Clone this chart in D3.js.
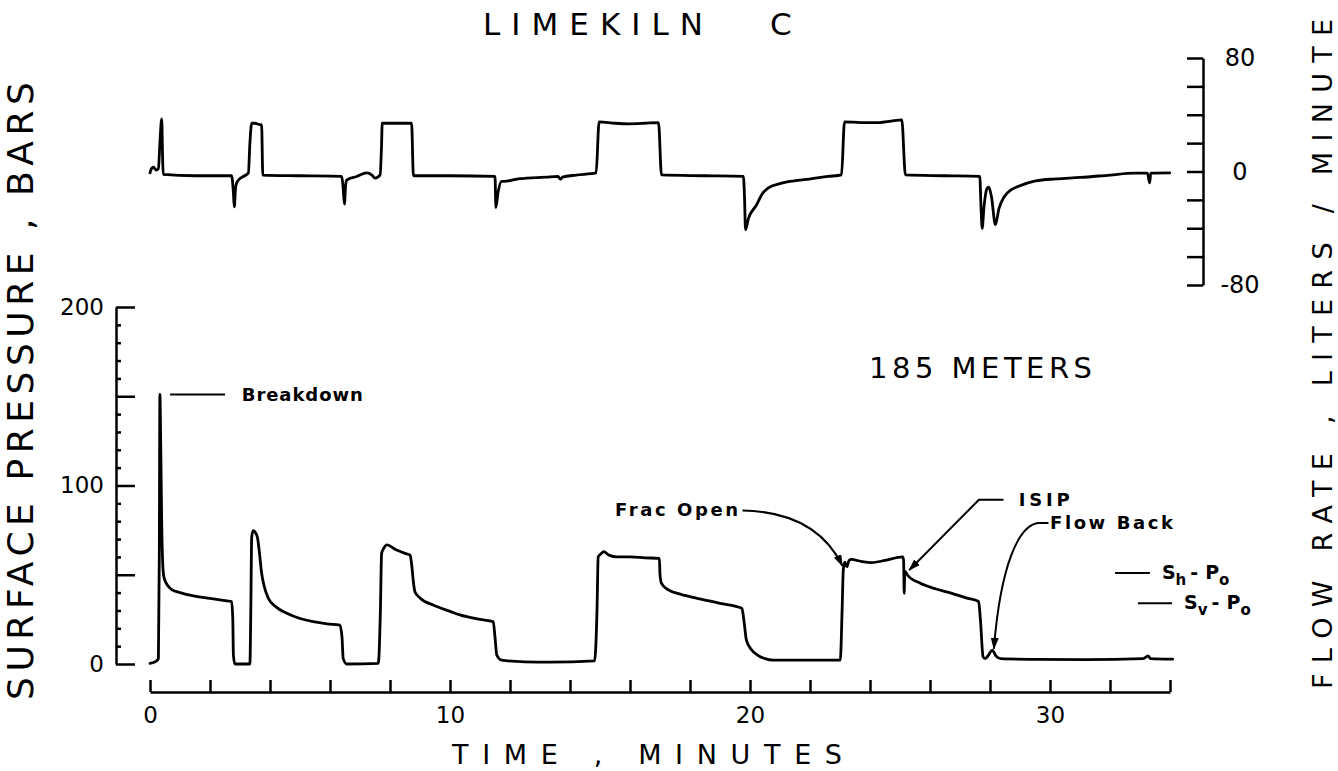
<!DOCTYPE html>
<html>
<head>
<meta charset="utf-8">
<script src="https://cdn.jsdelivr.net/npm/d3@7"></script>
<style>
  html, body { margin: 0; padding: 0; background: #fff; }
  svg { display: block; }
  .axis path, .axis line { stroke: #000; stroke-width: 2.5px; }
  .axis text { font-family: 'DejaVu Sans', sans-serif; font-size: 23px; fill: #000; }
  .trace { fill: none; stroke: #000; stroke-width: 2.8px; stroke-linejoin: round; stroke-linecap: round; }
  .title { font-family: 'DejaVu Sans', sans-serif; fill: #000; }
  .note { font-family: 'DejaVu Sans', sans-serif; font-weight: bold; font-size: 18px; fill: #000; }
  .lead { fill: none; stroke: #000; stroke-width: 2px; }
</style>
</head>
<body>
<div id="chart"></div>
<script>
// Flow rate trace (minutes, liters/minute)
const flowTime = [0, 0.05, 0.12, 0.2, 0.28, 0.33, 0.39, 0.42, 0.44, 1.5, 2.72, 2.78, 2.81, 2.85, 2.89, 3.0, 3.11, 3.28, 3.33, 3.39, 3.5, 3.67, 3.72, 3.76,
  5.0, 6.39, 6.44, 6.48, 6.52, 6.56, 6.89, 7.22, 7.4, 7.5, 7.67, 7.72, 7.74, 8.2, 8.72, 8.78,
  10.0, 11.5, 11.53, 11.6, 11.72, 11.8, 12.33, 12.56, 13.2, 13.6, 13.68, 13.75, 14.2, 14.87, 14.97, 15.5, 15.98, 16.5, 16.95, 17.05,
  18.5, 19.78, 19.82, 19.85, 19.95, 20.22, 20.4, 20.6, 21.0, 21.33, 22.08, 22.6, 23.05, 23.15, 23.7, 24.32, 24.7, 25.06, 25.18,
  26.5, 27.66, 27.7, 27.74, 27.8, 27.9, 27.96, 28.05, 28.18, 28.3, 28.48, 28.7, 28.93, 29.52, 30.2, 31.01, 32.0, 32.8, 33.25, 33.32, 33.36, 33.99];
const flowRate = [-1, 2, 3, 1, 2, 20, 37, 10, -2, -3, -3, -15, -25, -12, -8, -5, -3.5, -1, 20, 34, 34, 33, 33, -2.5,
  -3, -3.5, -12, -23, -10, -6, -3.5, -1, -2.5, -4.7, -2.4, 20, 34, 34, 34, -3,
  -3, -3.5, -25.4, -15, -7, -7, -5, -4.7, -4, -3.5, -5.5, -4, -2.5, -1, 35, 34, 33.6, 34, 34.5, -2.4,
  -3, -3.5, -20, -41, -33, -23.5, -16, -11.7, -8.5, -7, -5, -3.5, -2.4, 35, 34.5, 34.5, 35.5, 36.4, -2.4,
  -3, -3.5, -25, -40, -25, -12, -11, -18, -37.5, -26, -17.6, -13, -10.6, -6.6, -5.2, -4.2, -2.5, -1.2, -1.2, -8, -1.2, -1];

// Surface pressure trace (minutes, bars)
const pressTime = [0, 0.2, 0.28, 0.31, 0.33, 0.36, 0.39, 0.42, 0.46, 0.55, 0.7, 1.0, 1.5, 2.0, 2.5, 2.72, 2.76, 2.78, 2.83,
  3.33, 3.36, 3.39, 3.44, 3.5, 3.58, 3.65, 3.72, 3.8, 3.94, 4.2, 4.56, 5.0, 5.44, 5.9, 6.33, 6.4, 6.44, 6.56,
  7.61, 7.68, 7.72, 7.8, 7.89, 8.2, 8.5, 8.67, 8.72, 8.78, 8.83, 9.0, 9.44, 10.0, 10.33, 11.0, 11.44, 11.5, 11.56, 11.72, 12.5, 13.33,
  14.82, 14.9, 14.94, 15.05, 15.12, 15.3, 15.57, 16.0, 16.5, 16.98, 17.0, 17.05, 17.28, 17.7, 18.24, 19.0, 19.73, 19.8, 19.88, 20.05, 20.25, 20.5, 20.77,
  23.01, 23.07, 23.11, 23.16, 23.23, 23.3, 23.38, 23.7, 24.05, 24.5, 25.09, 25.12, 25.14, 25.16, 25.24, 25.68, 26.2, 26.73, 27.2, 27.62, 27.68, 27.77, 27.84,
  27.95, 28.07, 28.2, 28.36, 29.5, 31.19, 33.1, 33.27, 33.35, 34.09];
const pressure = [0.4, 1.5, 3, 60, 151, 120, 79, 58, 49, 45, 42, 40, 38, 36.8, 35.5, 34.9, 25, 5, 0,
  0, 30, 71, 74.7, 74, 71, 62, 51, 44, 37, 32, 28.4, 25.5, 23.7, 22.5, 21.8, 15, 3, 0,
  0.4, 30, 62, 65, 66.7, 64, 62, 61, 56, 46, 40.5, 37, 33, 29.5, 27.5, 25, 23.7, 15, 5, 2.2, 1.2, 1,
  1.8, 30, 60, 62, 63, 61, 60, 60, 59.5, 59.2, 50, 45.2, 41.5, 39, 36.8, 34, 31.2, 24, 13.4, 8, 5, 3, 2.2,
  2.2, 30, 52.7, 57, 54.5, 58, 58.6, 57.5, 56.8, 58, 60, 58, 39.6, 52, 50, 45.2, 42, 39.6, 37, 35, 25, 4, 3,
  5, 7.8, 4.5, 3, 2.6, 2.4, 3, 4.5, 3, 2.7];

// Axis ticks
const timeTicks = [0, 2, 4, 6, 8, 10, 12, 14, 16, 18, 20, 22, 24, 26, 28, 30, 32, 34];
const timeLabels = [0, 10, 20, 30];
const pressMajor = [0, 50, 100, 150, 200];
const pressMinor = [10, 20, 30, 40, 60, 70, 80, 90, 110, 120, 130, 140, 160, 170, 180, 190];
const pressLabels = [0, 100, 200];
const flowTicks = [-80, -60, -40, -20, 0, 20, 40, 60, 80];
const flowLabels = [-80, 0, 80];

// Reference stress levels (bars)
const stressNames = [['S', 'h'], ['S', 'v']];
const stressValues = [51, 34];

const W = 1338, H = 771;
const svg = d3.select('#chart').append('svg')
  .attr('width', W)
  .attr('height', H);

const defs = svg.append('defs');
defs.append('marker')
  .attr('id', 'arrow')
  .attr('viewBox', '0 0 12 8')
  .attr('refX', 11)
  .attr('refY', 4)
  .attr('markerWidth', 12)
  .attr('markerHeight', 8)
  .attr('markerUnits', 'userSpaceOnUse')
  .attr('orient', 'auto')
  .append('path')
  .attr('d', 'M0,0 L12,4 L0,8 Z')
  .attr('fill', '#000');

// Scales
const x = d3.scaleLinear().domain([0, 34]).range([150, 1170]);
const yP = d3.scaleLinear().domain([0, 200]).range([664, 307]);
const yF = d3.scaleLinear().domain([-80, 80]).range([285, 58]);

// Time axis
svg.append('g')
  .attr('class', 'axis')
  .attr('transform', 'translate(0,692)')
  .call(d3.axisBottom(x)
    .tickValues(timeTicks)
    .tickSizeInner(-12)
    .tickSizeOuter(0)
    .tickPadding(15)
    .tickFormat(d => timeLabels.includes(d) ? String(d) : ''));

// Pressure axis
svg.append('g')
  .attr('class', 'axis')
  .attr('transform', 'translate(116,0)')
  .call(d3.axisLeft(yP)
    .tickValues(pressMajor)
    .tickSizeInner(-19)
    .tickSizeOuter(0)
    .tickPadding(12)
    .tickFormat(d => pressLabels.includes(d) ? String(d) : ''));

svg.append('g')
  .attr('class', 'axis')
  .attr('transform', 'translate(116,0)')
  .call(d3.axisLeft(yP)
    .tickValues(pressMinor)
    .tickSize(-5)
    .tickFormat(''))
  .call(g => g.select('.domain').remove());

// Flow axis
svg.append('g')
  .attr('class', 'axis')
  .attr('transform', 'translate(1203,0)')
  .call(d3.axisRight(yF)
    .tickValues(flowTicks)
    .tickSizeInner(-16)
    .tickSizeOuter(0)
    .tickPadding(37)
    .tickFormat(d => flowLabels.includes(d) ? String(d) : ''))
  .call(g => g.selectAll('text').attr('text-anchor', 'middle').style('font-size', '24px'));

// Traces
const flowLine = d3.line()
  .x((d, i) => x(flowTime[i]))
  .y(d => yF(d))
  .curve(d3.curveMonotoneX);

const pressLine = d3.line()
  .x((d, i) => x(pressTime[i]))
  .y(d => yP(d))
  .curve(d3.curveMonotoneX);

svg.append('path')
  .datum(flowRate)
  .attr('class', 'trace')
  .attr('d', flowLine);

svg.append('path')
  .datum(pressure)
  .attr('class', 'trace')
  .attr('d', pressLine);

// Titles
svg.append('text').attr('class', 'title')
  .attr('x', 483).attr('y', 35)
  .attr('textLength', 220).attr('lengthAdjust', 'spacing')
  .style('font-size', '31px')
  .text('LIMEKILN');
svg.append('text').attr('class', 'title')
  .attr('x', 770).attr('y', 35)
  .style('font-size', '31px')
  .text('C');

svg.append('text').attr('class', 'title')
  .attr('x', 869).attr('y', 378)
  .attr('textLength', 223).attr('lengthAdjust', 'spacing')
  .style('font-size', '29px')
  .text('185 METERS');

svg.append('text').attr('class', 'title')
  .attr('x', 452).attr('y', 764)
  .attr('textLength', 390).attr('lengthAdjust', 'spacing')
  .style('font-size', '27px')
  .text('TIME , MINUTES');

svg.append('text').attr('class', 'title')
  .attr('transform', 'translate(33,391) rotate(-90)')
  .attr('text-anchor', 'middle')
  .attr('textLength', 618).attr('lengthAdjust', 'spacing')
  .style('font-size', '36px')
  .text('SURFACE PRESSURE , BARS');

svg.append('text').attr('class', 'title')
  .attr('transform', 'translate(1332,354) rotate(-90)')
  .attr('text-anchor', 'middle')
  .attr('textLength', 670).attr('lengthAdjust', 'spacing')
  .style('font-size', '27px')
  .text('FLOW RATE , LITERS / MINUTE');

// Annotations
const note = (txt, tx, ty, len) => svg.append('text')
  .attr('class', 'note')
  .attr('x', tx).attr('y', ty)
  .attr('dy', '0.35em')
  .attr('textLength', len).attr('lengthAdjust', 'spacing')
  .text(txt);

// Breakdown
svg.append('line').attr('class', 'lead')
  .attr('x1', x(0.67)).attr('x2', x(2.5))
  .attr('y1', yP(151)).attr('y2', yP(151));
note('Breakdown', x(3.06), yP(151), 121);

// Frac Open
note('Frac Open', x(15.5), yP(86.3), 123);
svg.append('path').attr('class', 'lead')
  .attr('marker-end', 'url(#arrow)')
  .attr('d', `M${x(19.75)},${yP(86)} C${x(21.4)},${yP(85.5)} ${x(22.5)},${yP(75)} ${x(23.08)},${yP(55)}`);

// ISIP
note('ISIP', x(28.96), yP(91.9), 51);
svg.append('path').attr('class', 'lead')
  .attr('marker-end', 'url(#arrow)')
  .attr('d', `M${x(28.45)},${yP(92)} L${x(27.63)},${yP(92)} L${x(25.31)},${yP(52.7)}`);

// Flow Back
note('Flow Back', x(30), yP(79), 123);
svg.append('path').attr('class', 'lead')
  .attr('marker-end', 'url(#arrow)')
  .attr('d', `M${x(29.95)},${yP(79)} L${x(29.62)},${yP(79)} C${x(28.95)},${yP(78)} ${x(28.35)},${yP(55)} ${x(28.13)},${yP(8.5)}`);

// Stress levels
const stressX = [[32.17, 33.33], [32.93, 34.07]];
stressValues.forEach((v, i) => {
  svg.append('line').attr('class', 'lead')
    .attr('x1', x(stressX[i][0])).attr('x2', x(stressX[i][1]))
    .attr('y1', yP(v)).attr('y2', yP(v));
  const t = svg.append('text').attr('class', 'note')
    .attr('x', x(stressX[i][1]) + 12).attr('y', yP(v) + 6)
    .style('font-size', '19px');
  t.append('tspan').text(stressNames[i][0]);
  t.append('tspan').attr('dy', 6).style('font-size', '15px').text(stressNames[i][1]);
  t.append('tspan').attr('dy', -6).attr('dx', 4).text('-');
  t.append('tspan').attr('dx', 7).text('P');
  t.append('tspan').attr('dy', 6).style('font-size', '15px').text('o');
});
</script>
</body>
</html>
